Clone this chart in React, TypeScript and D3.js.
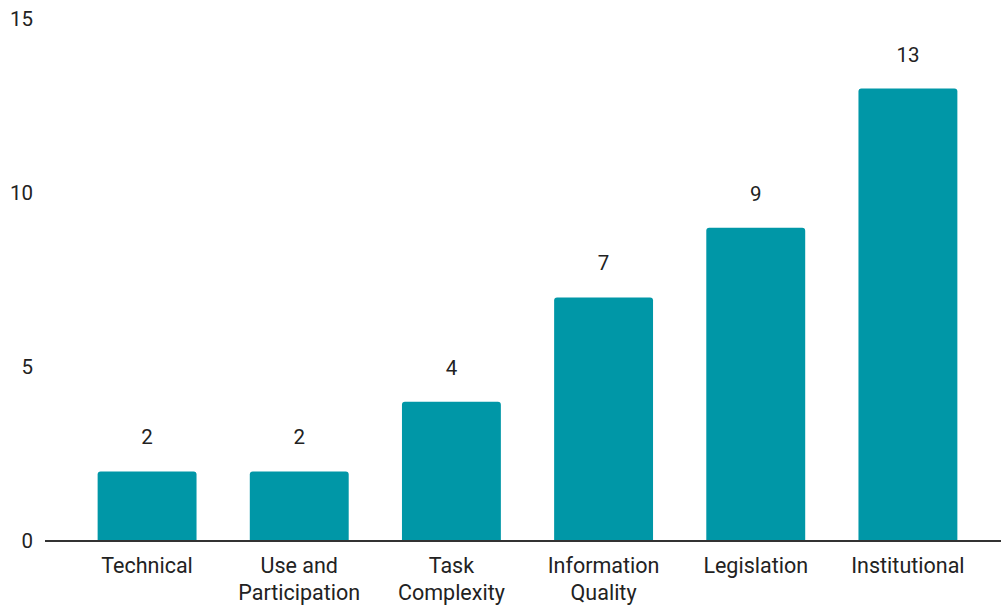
import React from "react";
import * as d3 from "d3";

const categories: string[][] = [
  ["Technical"],
  ["Use and", "Participation"],
  ["Task", "Complexity"],
  ["Information", "Quality"],
  ["Legislation"],
  ["Institutional"],
];
const values: number[] = [2, 2, 4, 7, 9, 13];
const yTicks: number[] = [0, 5, 10, 15];

const W = 1001;
const H = 607;
const FONT = "Roboto, 'Noto Sans', sans-serif";
const COLOR = "#0097a7";

function topRoundedBar(x: number, y: number, w: number, h: number, r: number) {
  const p = d3.path();
  p.moveTo(x, y + h);
  p.lineTo(x, y + r);
  p.quadraticCurveTo(x, y, x + r, y);
  p.lineTo(x + w - r, y);
  p.quadraticCurveTo(x + w, y, x + w, y + r);
  p.lineTo(x + w, y + h);
  p.closePath();
  return p.toString();
}

export default function App() {
  const keys = categories.map((c) => c.join(" "));
  const x = d3.scaleBand<string>().domain(keys).range([71, 984]).paddingInner(0.35).paddingOuter(0.175);
  const y = d3.scaleLinear().domain([0, 15]).range([541, 19]);
  return (
    <svg width={W} height={H} style={{ position: "absolute", left: 0, top: 0, background: "#fff" }}>
      {yTicks.map((t) => (
        <text key={t} x={33} y={y(t) + 7} textAnchor="end" fontFamily={FONT} fontSize={20.5} fill="#222">
          {t}
        </text>
      ))}
      {values.map((v, i) => {
        const bx = x(keys[i])!;
        const bw = x.bandwidth();
        return (
          <g key={i}>
            <path d={topRoundedBar(bx, y(v), bw, y(0) - y(v), 3)} fill={COLOR} />
            <text x={bx + bw / 2} y={y(v) - 27} textAnchor="middle" fontFamily={FONT} fontSize={20.5} fill="#222">
              {v}
            </text>
            {categories[i].map((line, j) => (
              <text key={j} x={bx + bw / 2} y={573 + j * 27} textAnchor="middle" fontFamily={FONT} fontSize={21.5} fill="#222">
                {line}
              </text>
            ))}
          </g>
        );
      })}
      <line x1={45} x2={1001} y1={y(0)} y2={y(0)} stroke="#333" strokeWidth={2} />
    </svg>
  );
}
